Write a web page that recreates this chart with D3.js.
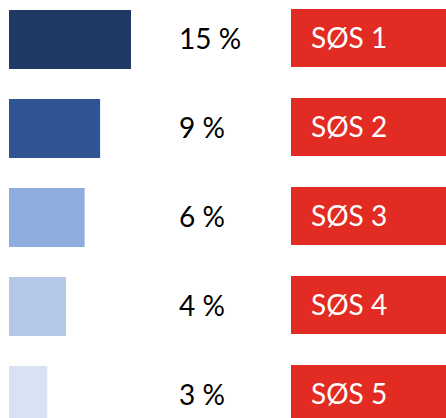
<!DOCTYPE html>
<html>
<head>
<meta charset="utf-8">
<script src="https://cdn.jsdelivr.net/npm/d3@7"></script>
<style>
  html, body { margin: 0; padding: 0; background: #fff; overflow: hidden; }
  svg { display: block; }
</style>
</head>
<body>
<div id="chart"></div>
<script>
// data
var categories = ["SØS 1", "SØS 2", "SØS 3", "SØS 4", "SØS 5"];
var shares = [15, 9, 6, 4, 3];               // printed percentages
var barLengths = [15, 11.2, 9.3, 7, 4.7];    // drawn bar length (same units as row 1)
var colors = ["#203864", "#2e5494", "#8eacdd", "#b4c7e7", "#d9e2f3"];

var width = 446, height = 418;

var svg = d3.select("#chart").append("svg")
    .attr("width", width).attr("height", height);

var y = d3.scaleBand()
    .domain(categories)
    .range([10, 10 + 4 * 89 + 59])
    .paddingInner(30 / 89)
    .paddingOuter(0);

var x = d3.scaleLinear()
    .domain([0, 15])
    .range([9, 131]);

var rows = categories.map(function(c, i) {
    return {name: c, share: shares[i], len: barLengths[i], color: colors[i]};
});

// bars
svg.selectAll("rect.bar")
    .data(rows)
    .enter().append("rect")
    .attr("class", "bar")
    .attr("x", x(0))
    .attr("y", function(d) { return y(d.name); })
    .attr("width", function(d) { return x(d.len) - x(0); })
    .attr("height", y.bandwidth())
    .style("fill", function(d) { return d.color; });

// percent labels
svg.selectAll("text.pct")
    .data(rows)
    .enter().append("text")
    .attr("class", "pct")
    .attr("x", 179)
    .attr("y", function(d) { return y(d.name) + y.bandwidth() / 2; })
    .attr("dy", "0.35em")
    .attr("font-family", "Lato, sans-serif")
    .attr("font-size", "28px")
    .attr("fill", "#000")
    .text(function(d) { return d.share + " %"; });

// red name boxes
svg.selectAll("rect.box")
    .data(rows)
    .enter().append("rect")
    .attr("class", "box")
    .attr("x", 291)
    .attr("y", function(d) { return y(d.name) - 1; })
    .attr("width", width - 291)
    .attr("height", y.bandwidth() - 1)
    .style("fill", "#e22b22");

svg.selectAll("text.name")
    .data(rows)
    .enter().append("text")
    .attr("class", "name")
    .attr("x", 311)
    .attr("y", function(d) { return y(d.name) - 1 + (y.bandwidth() - 1) / 2; })
    .attr("dy", "0.35em")
    .attr("font-family", "Lato, sans-serif")
    .attr("font-size", "28px")
    .attr("fill", "#fff")
    .text(function(d) { return d.name; });
</script>
</body>
</html>
